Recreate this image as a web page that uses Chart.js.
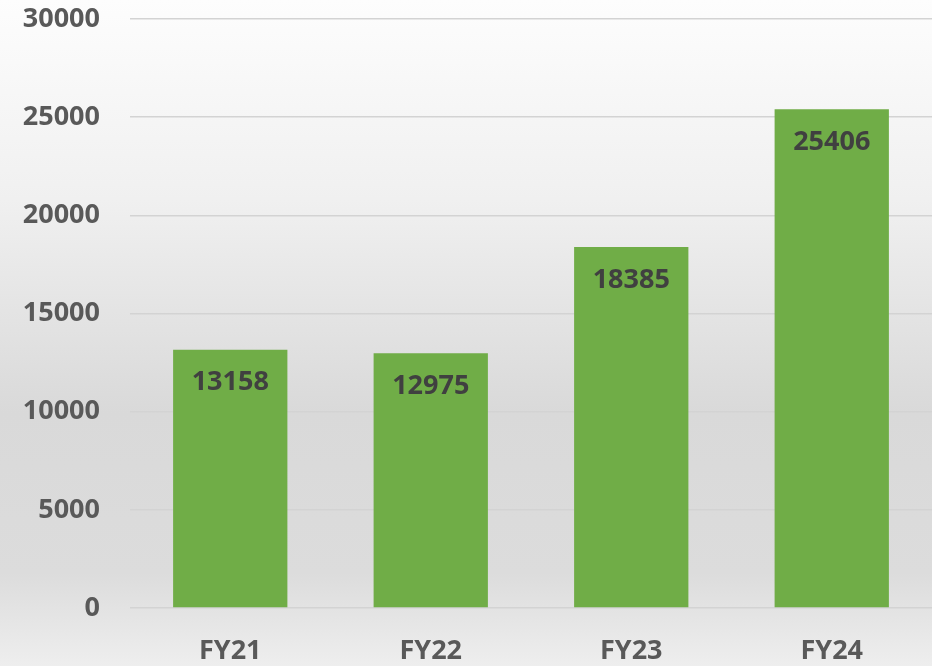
<!DOCTYPE html>
<html><head><meta charset="utf-8">
<script src="https://cdn.jsdelivr.net/npm/chart.js@4/dist/chart.umd.min.js"></script>
<style>html,body{margin:0;padding:0;background:#fff}#wrap{width:932px;height:666px}</style>
</head><body><div id="wrap"><canvas id="c" width="932" height="666"></canvas></div>
<script>
const categories = ["FY21", "FY22", "FY23", "FY24"];
const values = [13158, 12975, 18385, 25406];
const yTicks = [0, 5000, 10000, 15000, 20000, 25000, 30000];

const bgPlugin = {
  id: 'bg',
  beforeDraw(chart) {
    const ctx = chart.ctx, w = chart.width, h = chart.height;
    const g = ctx.createLinearGradient(0, 0, 0, h);
    g.addColorStop(0, '#fdfdfd');
    g.addColorStop(0.3, '#f0f0f0');
    g.addColorStop(0.62, '#d9d9d9');
    g.addColorStop(0.86, '#dcdcdc');
    g.addColorStop(1, '#eeeeee');
    ctx.save(); ctx.fillStyle = g; ctx.fillRect(0, 0, w, h); ctx.restore();
  }
};
const labelPlugin = {
  id: 'lbl',
  afterDatasetsDraw(chart) {
    const ctx = chart.ctx, y = chart.scales.y, x = chart.scales.x;
    ctx.save();
    ctx.font = 'bold 27px "Open Sans"';
    ctx.fillStyle = '#404040';
    ctx.textAlign = 'center'; ctx.textBaseline = 'middle';
    values.forEach((v, i) => {
      ctx.fillText(String(v), x.getPixelForValue(i), y.getPixelForValue(v) + 33);
    });
    ctx.restore();
  }
};

new Chart(document.getElementById('c'), {
  type: 'bar',
  data: { labels: categories, datasets: [{ data: values, backgroundColor: '#70AD47', barPercentage: 0.57, categoryPercentage: 1 }] },
  options: {
    responsive: false, animation: false, devicePixelRatio: 1,
    layout: { padding: { top: 19, right: 0, left: 0, bottom: 0 } },
    plugins: { legend: { display: false }, tooltip: { enabled: false } },
    scales: {
      y: {
        min: 0, max: 30000,
        afterBuildTicks(s) { s.ticks = yTicks.map(v => ({ value: v })); },
        afterFit(s) { s.width = 130; s.paddingTop = 0; s.paddingBottom = 0; },
        grid: { color: '#d3d3d3', lineWidth: 1.5, drawTicks: false },
        border: { display: false },
        ticks: { color: '#595959', font: { family: 'Open Sans', weight: 'bold', size: 27 }, padding: 30, callback: v => String(v) }
      },
      x: {
        afterFit(s) { s.height = 58; s.paddingLeft = 0; s.paddingRight = 0; },
        grid: { display: false, drawTicks: false },
        border: { display: false },
        ticks: { color: '#595959', font: { family: 'Open Sans', weight: 'bold', size: 27 }, padding: 27 }
      }
    }
  },
  plugins: [bgPlugin, labelPlugin]
});
</script></body></html>
